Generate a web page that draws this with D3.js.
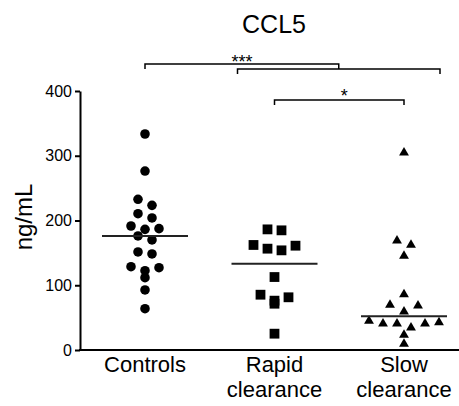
<!DOCTYPE html>
<html>
<head>
<meta charset="utf-8">
<script src="https://cdn.jsdelivr.net/npm/d3@7"></script>
<style>
  body { margin: 0; background: #fff; }
  text { font-family: Arial, "Liberation Sans", sans-serif; fill: #000; }
</style>
</head>
<body>
<svg id="chart" width="459" height="406"></svg>
<script>
// values (ng/mL)
var groups = ["Controls", "Rapid clearance", "Slow clearance"];
var controls = [333.6, 276.4, 232.7, 223.4, 210.5, 203.9, 191.5, 187.4, 186.3, 176.1, 169.9, 151.4, 148.3, 128.7, 127.1, 122.5, 111.7, 92.7, 63.8];
var rapid = [186.3, 184.8, 162.2, 161.1, 156.5, 153.9, 112.7, 85.4, 81.4, 76.2, 71.5, 25.2];
var slow = [304.7, 168.8, 162.2, 145.2, 86.0, 69.5, 68.5, 59.2, 44.8, 42.6, 40.6, 40.6, 40.6, 34.4, 23.2, 9.3];
var yTicks = [0, 100, 200, 300, 400];
var title = "CCL5";
var yLabel = "ng/mL";
var sigAll = "***"; // controls vs all patients
var sigRS = "*";    // rapid vs slow

var svg = d3.select("#chart");

var x = d3.scalePoint().domain(groups).range([145, 404]);
var y = d3.scaleLinear().domain([0, 400]).range([350, 91]);

// title
svg.append("text")
  .attr("x", 274).attr("y", 33)
  .attr("text-anchor", "middle")
  .style("font-size", "25px")
  .text(title);

// y axis
var yAxis = svg.append("g")
  .attr("transform", "translate(80,0)")
  .call(d3.axisLeft(y).tickValues(yTicks).tickSize(5).tickSizeOuter(0).tickPadding(3));
yAxis.select(".domain").attr("stroke-width", 2);
yAxis.selectAll(".tick line").attr("stroke-width", 2);
yAxis.selectAll("text").style("font-size", "16px").attr("fill", "#000");

svg.append("text")
  .attr("transform", "translate(32,217) rotate(-90)")
  .attr("text-anchor", "middle")
  .style("font-size", "24px")
  .text(yLabel);

// x axis line across the plot
svg.append("line")
  .attr("x1", 79).attr("x2", 459)
  .attr("y1", y(0)).attr("y2", y(0))
  .attr("stroke", "#000").attr("stroke-width", 2);

// category labels, one text per line
var lines = [];
groups.forEach(function (g) {
  g.split(" ").forEach(function (w, i) { lines.push({ g: g, w: w, i: i }); });
});
svg.append("g").selectAll("text")
  .data(lines).enter()
  .append("text")
  .attr("text-anchor", "middle")
  .attr("x", function (d) { return x(d.g); })
  .attr("y", function (d) { return 372 + d.i * 25; })
  .style("font-size", "22px")
  .text(function (d) { return d.w; });

// simple row based swarm: close values share a row, spread symmetrically
function swarm(values, step, gap) {
  var sorted = values.slice().sort(d3.descending);
  var rows = [], row = null;
  sorted.forEach(function (v) {
    if (!row || y(v) - y(row[0]) > gap) { row = [v]; rows.push(row); }
    else row.push(v);
  });
  var out = [];
  rows.forEach(function (r) {
    var n = r.length;
    var slots = d3.range(n).map(function (i) { return (i - (n - 1) / 2) * step; });
    var order = [], lo = 0, hi = n - 1;
    while (lo <= hi) {
      order.push(slots[lo++]);
      if (lo <= hi) order.push(slots[hi--]);
    }
    r.forEach(function (v, i) { out.push({ v: v, dx: order[i] }); });
  });
  return out;
}

var series = [
  { name: groups[0], values: controls, shape: d3.symbolCircle, size: 72 },
  { name: groups[1], values: rapid, shape: d3.symbolSquare, size: 96 },
  { name: groups[2], values: slow, shape: d3.symbolTriangle, size: 42 }
];

series.forEach(function (s) {
  svg.append("g").selectAll("path")
    .data(swarm(s.values, 14, 9))
    .enter().append("path")
    .attr("d", d3.symbol().type(s.shape).size(s.size))
    .attr("transform", function (d) {
      return "translate(" + (x(s.name) + d.dx) + "," + y(d.v) + ")";
    })
    .attr("fill", "#000");

  var m = d3.median(s.values);
  svg.append("line")
    .attr("x1", x(s.name) - 43).attr("x2", x(s.name) + 43)
    .attr("y1", y(m)).attr("y2", y(m))
    .attr("stroke", "#222").attr("stroke-width", 2);
});

// significance brackets
function bracket(x1, x2, yy, h) {
  svg.append("path")
    .attr("d", "M" + x1 + "," + (yy + h) + "V" + yy + "H" + x2 + "V" + (yy + h))
    .attr("fill", "none").attr("stroke", "#000").attr("stroke-width", 1.5);
}
var pL = x(groups[1]) - 37, pR = x(groups[2]) + 36;
bracket(pL, pR, 69, 5);
bracket(x(groups[0]), (pL + pR) / 2, 64, 5);
svg.append("text")
  .attr("x", 242).attr("y", 68)
  .attr("text-anchor", "middle")
  .style("font-size", "18px")
  .text(sigAll);

bracket(x(groups[1]), x(groups[2]), 100, 5);
svg.append("text")
  .attr("x", x(groups[1]) + (x(groups[2]) - x(groups[1])) / 2 + 5).attr("y", 102)
  .attr("text-anchor", "middle")
  .style("font-size", "18px")
  .text(sigRS);
</script>
</body>
</html>
